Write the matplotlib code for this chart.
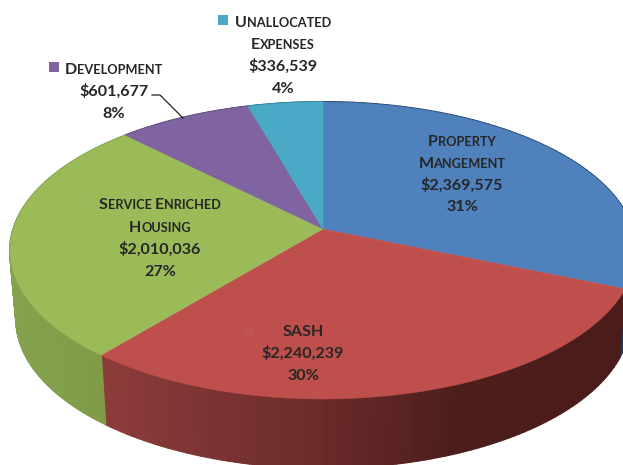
import numpy as np
from matplotlib import pyplot as plt
from matplotlib.collections import PolyCollection
from matplotlib.colors import to_rgb

plt.rcParams['font.family'] = ['Lato', 'DejaVu Sans']

# slices, clockwise from twelve o'clock
names = ["Property Mangement", "SASH", "Service Enriched Housing", "Development", "Unallocated Expenses"]
amounts = [2369575, 2240239, 2010036, 601677, 336539]
amount_labels = ["$2,369,575", "$2,240,239", "$2,010,036", "$601,677", "$336,539"]
pct_labels = ["31%", "30%", "27%", "8%", "4%"]
top_colors = ["#4F81BD", "#BE4F4C", "#9BBB59", "#8064A2", "#4AA9C4"]

# side shading, left to right across the picture
side_x = [10, 105, 300, 460, 623]
side_colors = [
    ["#1F3F60"] * 5,
    ["#8C3C3A", "#8C3C3A", "#6E2D2C", "#4C1D1B", "#4A1C1A"],
    ["#84A24D", "#7F9B48", "#7F9B48", "#7F9B48", "#7F9B48"],
    ["#5F4A7A"] * 5,
    ["#37809A"] * 5,
]

# perspective of the disc, in pixels
CX, CY = 323, 229
P, Q, K = 145.4, 309.7, 0.1448
DEPTH = 69
BOTTOM_SCALE = 0.98
TEXT = "#262626"
FS = 11.6
FS_SMALL = 9.2


def project(angle, scale=1.0, dy=0.0):
    u, v = np.sin(angle), np.cos(angle)
    w = 1 + K * v
    return np.column_stack([CX + scale * Q * u / w, CY + dy - P * v / w])


def small_caps(ax, renderer, x, y, s, size=FS, small=FS_SMALL):
    # lay out runs of large and small capitals, centred on x
    runs = []
    for word_i, word in enumerate(s.split(" ")):
        if word_i:
            runs.append((" ", small))
        runs.append((word[0], size))
        if word[1:]:
            runs.append((word[1:].upper(), small))
    items = []
    total = 0
    for txt, fs in runs:
        t = ax.text(0, y, txt.replace(" ", "\u00a0"), fontsize=fs, fontweight="bold", color=TEXT,
                    va="baseline", ha="left", zorder=4)
        w = t.get_window_extent(renderer).width
        items.append((t, w))
        total += w
    pos = x - total / 2
    for t, w in items:
        t.set_x(pos)
        pos += w


def plain(ax, x, y, s):
    ax.text(x, y, s, fontsize=FS, fontweight="bold", color=TEXT, ha="center", va="baseline", zorder=4)


def main():
    fig = plt.figure(figsize=(6.23, 4.65), dpi=100)
    ax = fig.add_axes([0, 0, 1, 1])
    ax.set_xlim(0, 623)
    ax.set_ylim(465, 0)
    ax.axis("off")
    renderer = fig.canvas.get_renderer()

    edges = np.concatenate([[0], np.cumsum(amounts)]) / sum(amounts) * 2 * np.pi

    # side wall
    for i in range(len(amounts)):
        angles = np.linspace(edges[i], edges[i + 1], 90)
        top = project(angles)
        bottom = project(angles, BOTTOM_SCALE, DEPTH)
        polys = []
        cols = []
        rgb = np.array([to_rgb(c) for c in side_colors[i]])
        for j in range(len(angles) - 1):
            polys.append([top[j], top[j + 1], bottom[j + 1], bottom[j]])
            mid = (top[j][0] + top[j + 1][0]) / 2
            cols.append([np.interp(mid, side_x, rgb[:, n]) for n in range(3)])
        ax.add_collection(PolyCollection(polys, facecolors=cols, edgecolors=cols, linewidths=1.4, zorder=1))

    # top face
    for i in range(len(amounts)):
        angles = np.linspace(edges[i], edges[i + 1], 200)
        pts = np.vstack([[CX, CY], project(angles)])
        ax.fill(pts[:, 0], pts[:, 1], color=top_colors[i], lw=0.3, zorder=2)

    # legend keys
    keys = [(244, 326, "#C0524F"), (83, 198, "#9CBC5B"), (49, 62, top_colors[3]), (218, 15, top_colors[4])]
    for kx, ky, col in keys:
        ax.fill([kx, kx + 10, kx + 10, kx], [ky, ky, ky + 10, ky + 10], color=col, lw=0, zorder=3)

    # leader line of Development
    ax.plot([152, 160, 183], [95, 95, 118], color="#222222", lw=0.9, zorder=3)

    # labels
    small_caps(ax, renderer, 462, 146, "Property")
    small_caps(ax, renderer, 462, 168, "Mangement")
    plain(ax, 462, 190, amount_labels[0])
    plain(ax, 462, 211, pct_labels[0])

    plain(ax, 303, 336, "SASH")
    plain(ax, 303, 358, amount_labels[1])
    plain(ax, 303, 380, pct_labels[1])

    small_caps(ax, renderer, 160, 209, "Service Enriched")
    small_caps(ax, renderer, 160, 232, "Housing")
    plain(ax, 160, 254, amount_labels[2])
    plain(ax, 160, 276, pct_labels[2])

    small_caps(ax, renderer, 114, 74, "Development")
    plain(ax, 114, 96, amount_labels[3])
    plain(ax, 114, 118, pct_labels[3])

    small_caps(ax, renderer, 283, 27, "Unallocated")
    small_caps(ax, renderer, 283, 49, "Expenses")
    plain(ax, 283, 71, amount_labels[4])
    plain(ax, 283, 93, pct_labels[4])

    fig.savefig("out.png", dpi=100)


if __name__ == "__main__":
    main()
